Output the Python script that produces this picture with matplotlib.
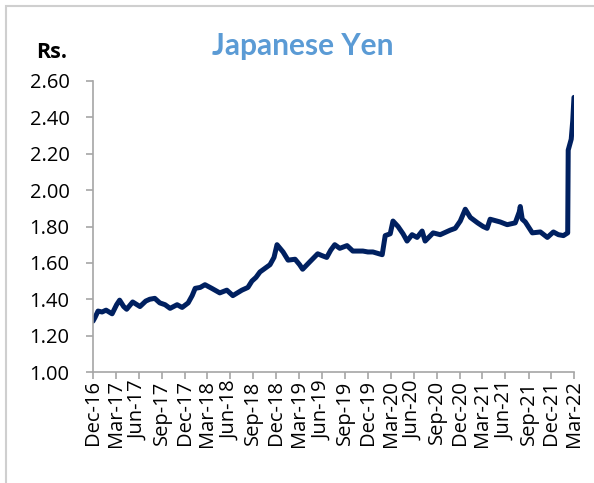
import pandas as pd
import matplotlib.pyplot as plt
from matplotlib.patches import Rectangle

# ------------------------------------------------------------
# dados (JPY em Rs.)
# ------------------------------------------------------------
datas = [
    '2016-12-01', '2016-12-09', '2016-12-21', '2017-01-06', '2017-01-22', '2017-02-15',
    '2017-03-05', '2017-03-17', '2017-04-02', '2017-04-14', '2017-05-08', '2017-06-06',
    '2017-06-29', '2017-07-15', '2017-08-04', '2017-08-24', '2017-09-14', '2017-10-04',
    '2017-11-01', '2017-11-21', '2017-12-15', '2017-12-31', '2018-01-12', '2018-02-01',
    '2018-02-20', '2018-03-19', '2018-04-20', '2018-05-18', '2018-06-11', '2018-07-17',
    '2018-08-10', '2018-08-26', '2018-09-11', '2018-09-27', '2018-10-17', '2018-11-06',
    '2018-11-22', '2018-12-04', '2018-12-16', '2018-12-28', '2019-01-17', '2019-02-14',
    '2019-03-04', '2019-03-16', '2019-04-13', '2019-05-15', '2019-06-01', '2019-06-20',
    '2019-07-06', '2019-07-22', '2019-08-11', '2019-09-09', '2019-10-02', '2019-11-11',
    '2019-12-01', '2019-12-21', '2020-01-27', '2020-02-08', '2020-02-28', '2020-03-10',
    '2020-03-30', '2020-04-19', '2020-05-05', '2020-05-25', '2020-06-14', '2020-07-04',
    '2020-07-16', '2020-08-17', '2020-09-14', '2020-10-24', '2020-11-13', '2020-12-03',
    '2020-12-23', '2021-01-12', '2021-02-10', '2021-03-04', '2021-03-20', '2021-04-01',
    '2021-05-11', '2021-06-08', '2021-07-10', '2021-07-26', '2021-07-30', '2021-08-07',
    '2021-08-19', '2021-09-16', '2021-10-18', '2021-11-15', '2021-12-09', '2021-12-29',
    '2022-01-18', '2022-02-04', '2022-02-06', '2022-02-18', '2022-02-24', '2022-03-01',
]
valores = [
    1.28, 1.30, 1.335, 1.33, 1.34, 1.32,
    1.37, 1.395, 1.36, 1.345, 1.385, 1.36,
    1.39, 1.40, 1.405, 1.38, 1.37, 1.35,
    1.37, 1.355, 1.38, 1.42, 1.46, 1.465,
    1.48, 1.46, 1.435, 1.45, 1.42, 1.45,
    1.465, 1.50, 1.52, 1.55, 1.57, 1.59,
    1.63, 1.70, 1.68, 1.66, 1.615, 1.62,
    1.59, 1.565, 1.605, 1.65, 1.64, 1.63,
    1.67, 1.70, 1.68, 1.695, 1.665, 1.665,
    1.66, 1.66, 1.645, 1.75, 1.76, 1.83,
    1.80, 1.76, 1.72, 1.755, 1.74, 1.775,
    1.72, 1.765, 1.755, 1.78, 1.79, 1.83,
    1.895, 1.85, 1.82, 1.80, 1.79, 1.84,
    1.825, 1.81, 1.82, 1.88, 1.91, 1.84,
    1.825, 1.765, 1.77, 1.74, 1.77, 1.755,
    1.75, 1.765, 2.22, 2.28, 2.38, 2.51,
]
rotulos_x = ['Dec-16', 'Mar-17', 'Jun-17', 'Sep-17', 'Dec-17', 'Mar-18', 'Jun-18', 'Sep-18',
             'Dec-18', 'Mar-19', 'Jun-19', 'Sep-19', 'Dec-19', 'Mar-20', 'Jun-20', 'Sep-20',
             'Dec-20', 'Mar-21', 'Jun-21', 'Sep-21', 'Dec-21', 'Mar-22']
ticks_y = [1.00, 1.20, 1.40, 1.60, 1.80, 2.00, 2.20, 2.40, 2.60]

df = pd.DataFrame({'data': pd.to_datetime(datas), 'jpy': valores})
ticks_x = pd.to_datetime(rotulos_x, format='%b-%y')

plt.rcParams['font.family'] = ['Open Sans', 'DejaVu Sans']

fig = plt.figure(figsize=(5.94, 4.83), dpi=100, facecolor='white')
ax = fig.add_axes([0.1566, 0.2298, 0.8097, 0.6025])

ax.plot(df['data'], df['jpy'], color='#002060', linewidth=3.6, solid_joinstyle='round',
        solid_capstyle='round')

ax.set_ylim(1.0, 2.6)
ax.set_yticks(ticks_y)
ax.set_yticklabels([f'{v:.2f}' for v in ticks_y], fontsize=14.5)
ax.set_xlim(ticks_x[0], ticks_x[-1])
ax.set_xticks(ticks_x)
ax.set_xticklabels(rotulos_x, rotation=90, fontsize=14.5)

for lado in ['top', 'right']:
    ax.spines[lado].set_visible(False)
for lado in ['left', 'bottom']:
    ax.spines[lado].set_color('#A6A6A6')
    ax.spines[lado].set_linewidth(1.2)
ax.tick_params(axis='both', direction='out', length=5, width=1.2, color='#A6A6A6',
               labelcolor='black')
ax.tick_params(axis='y', pad=12)
ax.tick_params(axis='x', pad=1)

# titulo e unidade
fig.text(0.51, 0.905, 'Japanese Yen', ha='center', va='center', fontsize=21.5,
         fontweight='bold', color='#5B9BD5', family=['Lato', 'DejaVu Sans'])
fig.text(0.0875, 0.891, 'Rs.', ha='center', va='center', fontsize=15.5, fontweight='bold')

# moldura cinza da figura
fig.patches.append(Rectangle((6 / 594, -0.05), 1.1, 1.05 - 6 / 483,
                             transform=fig.transFigure, fill=False,
                             edgecolor='#CFCFCF', linewidth=1.5))

fig.savefig('out.png', dpi=100)
